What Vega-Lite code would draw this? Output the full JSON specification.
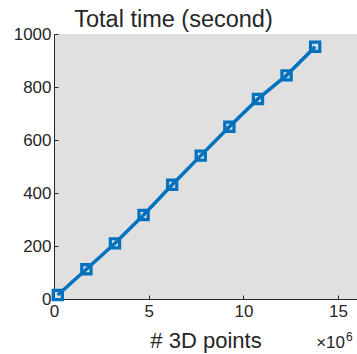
{
  "$schema": "https://vega.github.io/schema/vega-lite/v6.json",
  "width": 303,
  "height": 265,
  "autosize": {"type": "none"},
  "padding": {"left": 54, "top": 34, "right": 0, "bottom": 55},
  "background": "white",
  "title": {
    "text": "Total time (second)",
    "fontSize": 23.5,
    "fontWeight": "normal",
    "font": "Liberation Sans",
    "color": "#262626",
    "anchor": "middle",
    "dx": -32,
    "offset": -6
  },
  "layer": [
    {
      "data": {
        "values": [
          {"points": 0.2, "time": 15},
          {"points": 1.71, "time": 112},
          {"points": 3.22, "time": 210},
          {"points": 4.73, "time": 317},
          {"points": 6.24, "time": 431},
          {"points": 7.75, "time": 541},
          {"points": 9.26, "time": 650},
          {"points": 10.77, "time": 755},
          {"points": 12.28, "time": 844},
          {"points": 13.79, "time": 952}
        ]
      },
      "encoding": {
        "x": {
          "field": "points",
          "type": "quantitative",
          "scale": {"domain": [0, 16], "nice": false, "zero": false},
          "axis": {
            "values": [0, 5, 10, 15],
            "title": "# 3D points",
            "titlePadding": 11,
            "labelPadding": 8
          }
        },
        "y": {
          "field": "time",
          "type": "quantitative",
          "scale": {"domain": [0, 1000], "nice": false},
          "axis": {
            "values": [0, 200, 400, 600, 800, 1000],
            "format": "d",
            "title": null,
            "labelPadding": 7
          }
        }
      },
      "layer": [
        {
          "mark": {"type": "line", "color": "#0072BD", "strokeWidth": 3.5, "clip": false}
        },
        {
          "mark": {"type": "point", "shape": "square", "filled": false, "color": "#0072BD", "strokeWidth": 3.2, "size": 85, "opacity": 1, "clip": false}
        }
      ]
    },
    {
      "data": {"values": [{"label": "×10", "px": 16, "py": 0}]},
      "mark": {"type": "text", "align": "right", "baseline": "alphabetic", "fontSize": 17, "font": "Liberation Sans", "color": "#262626", "dx": -12, "dy": 49, "clip": false},
      "encoding": {
        "x": {"field": "px", "type": "quantitative"},
        "y": {"field": "py", "type": "quantitative"},
        "text": {"field": "label"}
      }
    },
    {
      "data": {"values": [{"label": "6", "px": 16, "py": 0}]},
      "mark": {"type": "text", "align": "left", "baseline": "alphabetic", "fontSize": 12, "font": "Liberation Sans", "color": "#262626", "dx": -11, "dy": 42, "clip": false},
      "encoding": {
        "x": {"field": "px", "type": "quantitative"},
        "y": {"field": "py", "type": "quantitative"},
        "text": {"field": "label"}
      }
    }
  ],
  "config": {
    "view": {"fill": "#e0e0e0", "stroke": null},
    "axis": {
      "grid": false,
      "domainColor": "#262626",
      "domainWidth": 1,
      "tickColor": "#262626",
      "tickSize": -4,
      "labelFont": "Liberation Sans",
      "labelFontSize": 17,
      "labelColor": "#262626",
      "titleFont": "Liberation Sans",
      "titleFontSize": 22,
      "titleFontWeight": "normal",
      "titleColor": "#262626",
      "labelFlush": false,
      "labelOverlap": false
    }
  }
}
